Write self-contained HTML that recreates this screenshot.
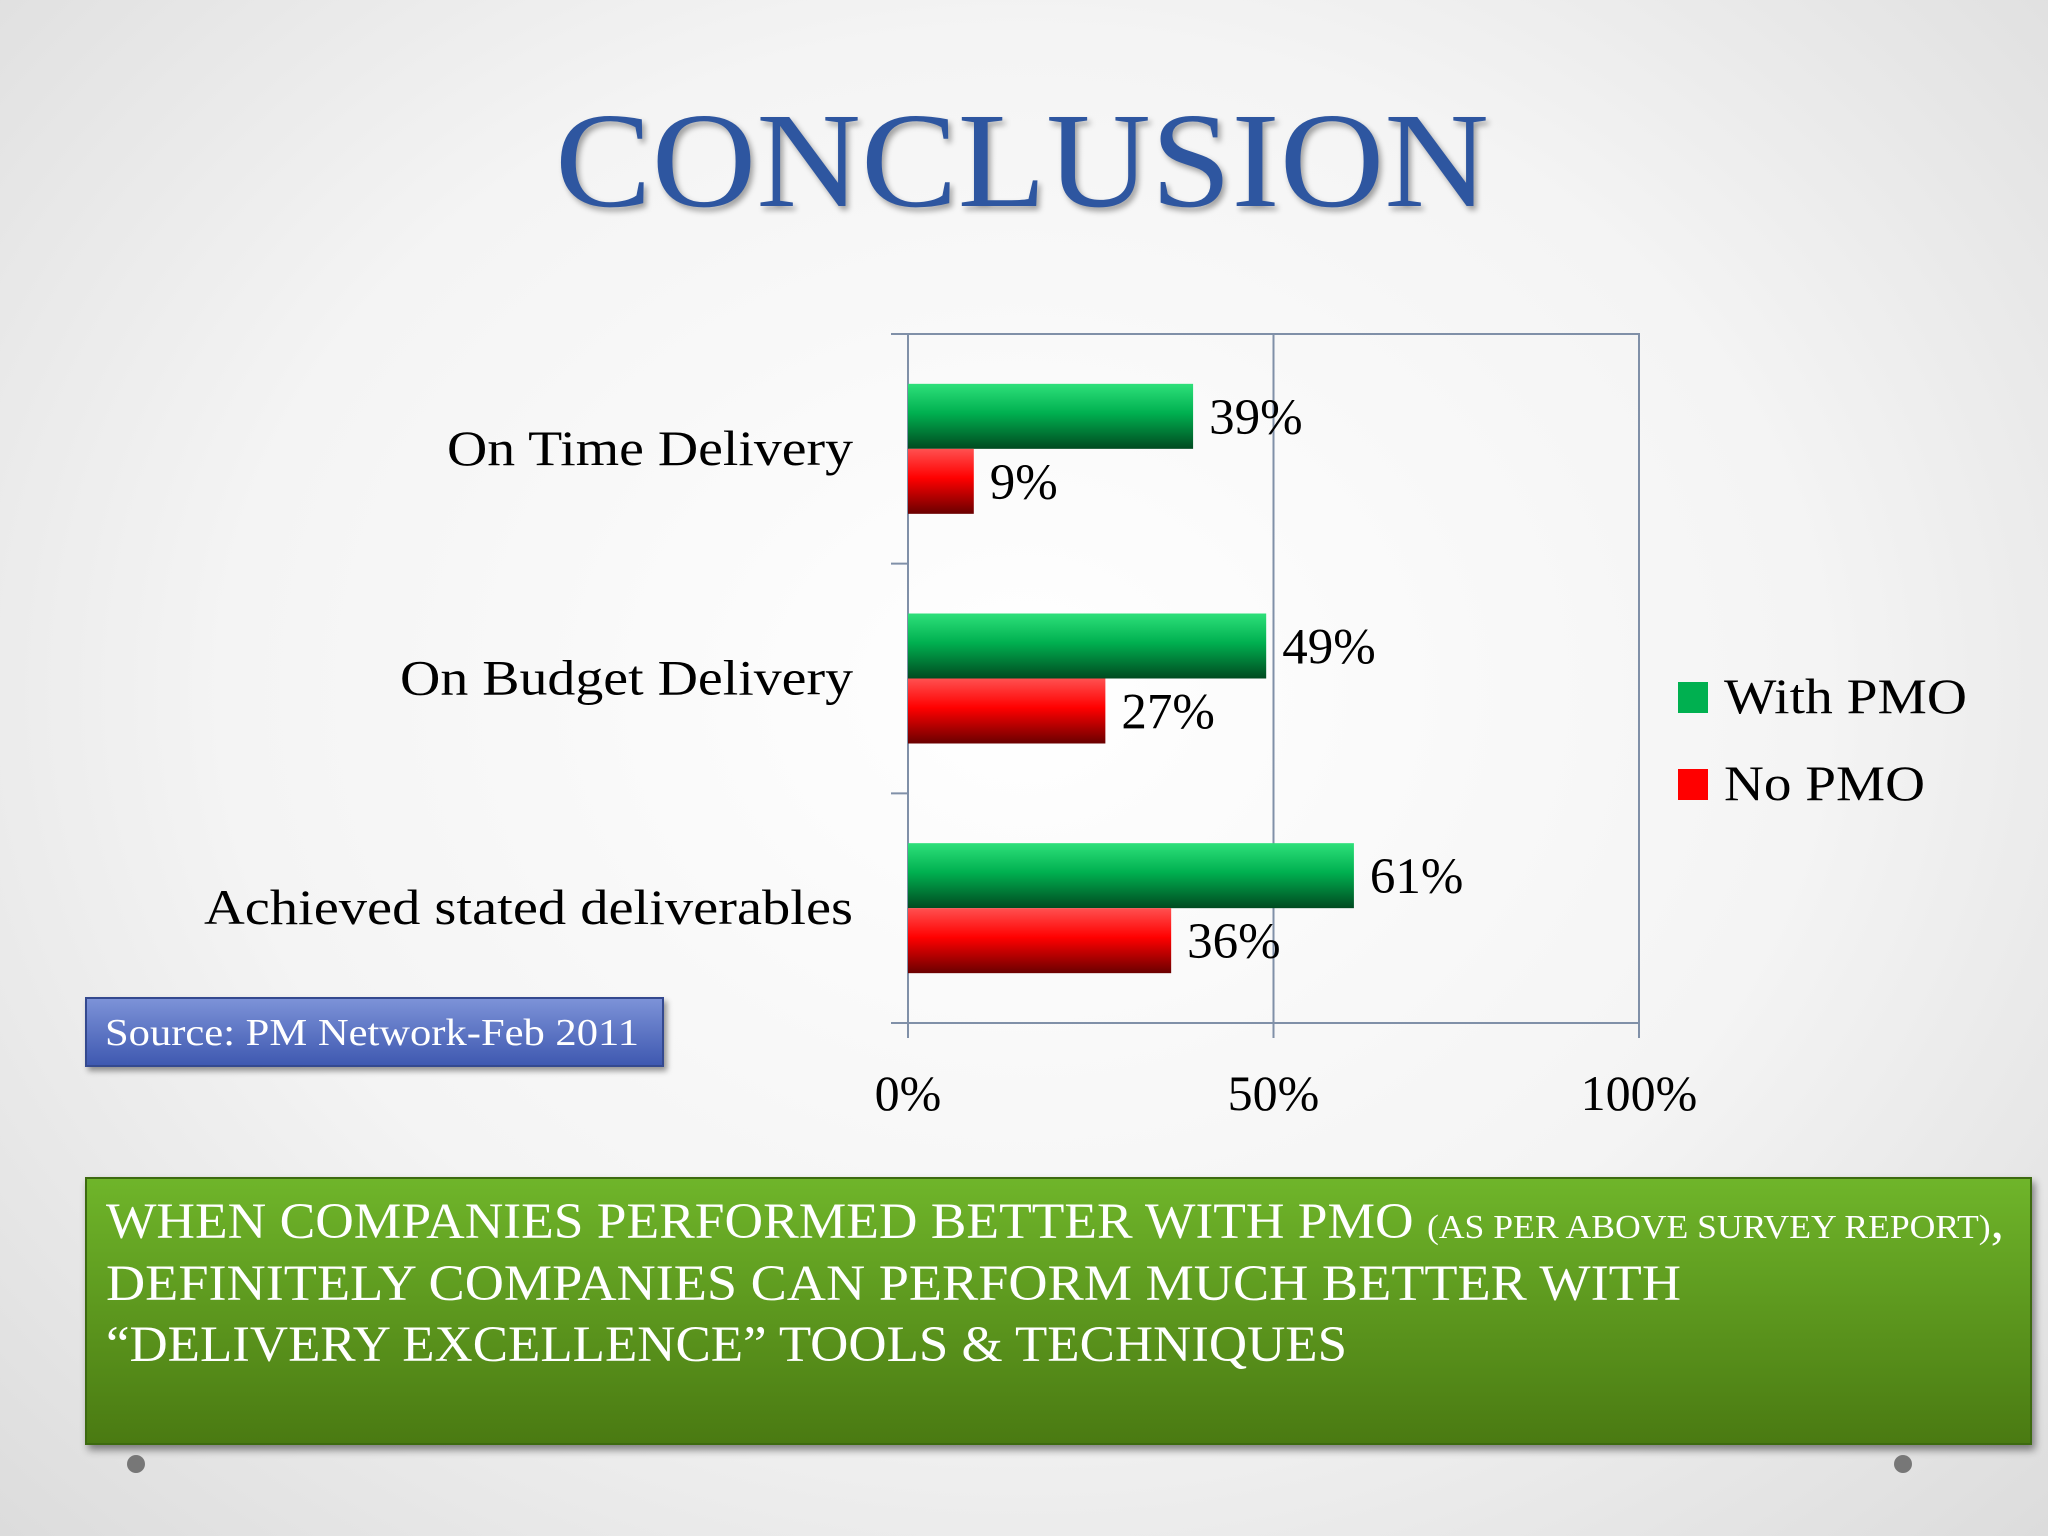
<!DOCTYPE html>
<html><head><meta charset="utf-8"><style>
html,body{margin:0;padding:0;}
body{width:2048px;height:1536px;overflow:hidden;background:radial-gradient(ellipse at 50% 45%,#ffffff 0%,#f4f4f4 55%,#dcdcdc 100%);}
svg{position:absolute;left:0;top:0;}
text{font-family:"Liberation Serif",serif;}
</style></head><body>
<svg id="s" width="2048" height="1536" viewBox="0 0 2048 1536">
<defs>
<linearGradient id="gG" x1="0" y1="0" x2="0" y2="1"><stop offset="0" stop-color="#2ee07a"/><stop offset="0.45" stop-color="#00b050"/><stop offset="1" stop-color="#004a20"/></linearGradient>
<linearGradient id="gR" x1="0" y1="0" x2="0" y2="1"><stop offset="0" stop-color="#ff5050"/><stop offset="0.45" stop-color="#ff0000"/><stop offset="1" stop-color="#6a0000"/></linearGradient>
<linearGradient id="gB" x1="0" y1="0" x2="0" y2="1"><stop offset="0" stop-color="#7d93d8"/><stop offset="1" stop-color="#3e58b0"/></linearGradient>
<linearGradient id="gBox" x1="0" y1="0" x2="0" y2="1"><stop offset="0" stop-color="#6fb52a"/><stop offset="1" stop-color="#4a7a12"/></linearGradient>
</defs>
<text x="555" y="206" textLength="934" lengthAdjust="spacingAndGlyphs" font-size="136" fill="#2e56a0" style="filter:drop-shadow(3px 4px 3px rgba(0,0,0,0.35))">CONCLUSION</text>
<g id="chart"></g>
<g>
<rect x="1678" y="682" width="30" height="31" fill="#00b050"/>
<text x="1724" y="713" font-size="50" textLength="243" lengthAdjust="spacingAndGlyphs" fill="#000">With PMO</text>
<rect x="1678" y="769" width="30" height="31" fill="#ff0000"/>
<text x="1724" y="800" font-size="50" textLength="201" lengthAdjust="spacingAndGlyphs" fill="#000">No PMO</text>
</g>
<rect x="86" y="998" width="577" height="68" fill="url(#gB)" stroke="#34498f" stroke-width="2" style="filter:drop-shadow(3px 4px 3px rgba(0,0,0,0.4))"/>
<text x="105" y="1045" font-size="38" textLength="534" lengthAdjust="spacingAndGlyphs" fill="#fff">Source: PM Network-Feb 2011</text>
<rect x="86" y="1178" width="1945" height="266" fill="url(#gBox)" stroke="#3d6a10" stroke-width="2" style="filter:drop-shadow(3px 5px 4px rgba(0,0,0,0.45))"/>
<g font-size="51" fill="#fff">
<text x="106" y="1238" textLength="1898" lengthAdjust="spacingAndGlyphs">WHEN COMPANIES  PERFORMED BETTER WITH PMO <tspan font-size="34">(AS PER ABOVE SURVEY REPORT)</tspan>,</text>
<text x="106" y="1300" textLength="1575" lengthAdjust="spacingAndGlyphs">DEFINITELY COMPANIES  CAN  PERFORM MUCH BETTER WITH</text>
<text x="106" y="1361" textLength="1241" lengthAdjust="spacingAndGlyphs">“DELIVERY EXCELLENCE” TOOLS &amp; TECHNIQUES</text>
</g>
<circle cx="136" cy="1464" r="9" fill="#777"/>
<circle cx="1903" cy="1464" r="9" fill="#777"/>
</svg>
<script>
const categories=["On Time Delivery","On Budget Delivery","Achieved stated deliverables"];
const withPMO=[39,49,61];
const noPMO=[9,27,36];
const tickLabels=["0%","50%","100%"];
const tickValues=[0,50,100];
const labelWidths=[406,453,649];
const NS="http://www.w3.org/2000/svg";
const g=document.getElementById('chart');
const L=908,R=1639,T=334,B=1023;
const x=v=>L+(R-L)*v/100;
const band=(B-T)/categories.length;
const bh=65;
function mk(t,a){const e=document.createElementNS(NS,t);for(const k in a)e.setAttribute(k,a[k]);g.appendChild(e);return e;}
let e=mk('rect',{x:L,y:T,width:R-L,height:B-T,fill:'none',stroke:'#8090a8','stroke-width':2});


tickValues.forEach((v,i)=>{
 if(v>0&&v<100){let gl=mk('line',{x1:x(v),x2:x(v),y1:T,y2:B,stroke:'#8090a8','stroke-width':2});
 
 }
 let tk=mk('line',{x1:x(v),x2:x(v),y1:B,y2:B+15,stroke:'#8090a8','stroke-width':2});
 
 
 let t=mk('text',{x:x(v),y:1110,'text-anchor':'middle','font-size':50,fill:'#000'});t.textContent=tickLabels[i];
 
 
});
for(let i=0;i<=categories.length;i++){let tk=mk('line',{x1:L-17,x2:L,y1:T+band*i,y2:T+band*i,stroke:'#8090a8','stroke-width':2});
 
 }
let ax=mk('line',{x1:L,x2:L,y1:T,y2:B+15,stroke:'#8090a8','stroke-width':2});


categories.forEach((c,i)=>{
 const cy=T+band*(i+0.5);
 let t=mk('text',{x:853-labelWidths[i],y:cy+16,textLength:labelWidths[i],lengthAdjust:'spacingAndGlyphs','font-size':50,fill:'#000'});t.textContent=c;
 
 
 let b1=mk('rect',{x:L,y:cy-bh,width:x(withPMO[i])-L,height:bh,fill:'url(#gG)'});
 
 
 let b2=mk('rect',{x:L,y:cy,width:x(noPMO[i])-L,height:bh,fill:'url(#gR)'});
 
 
 let l1=mk('text',{x:x(withPMO[i])+16,y:cy-15,'font-size':51,fill:'#000'});l1.textContent=withPMO[i]+'%';
 
 
 let l2=mk('text',{x:x(noPMO[i])+16,y:cy+50,'font-size':51,fill:'#000'});l2.textContent=noPMO[i]+'%';
 
 
});
</script>
</body></html>
